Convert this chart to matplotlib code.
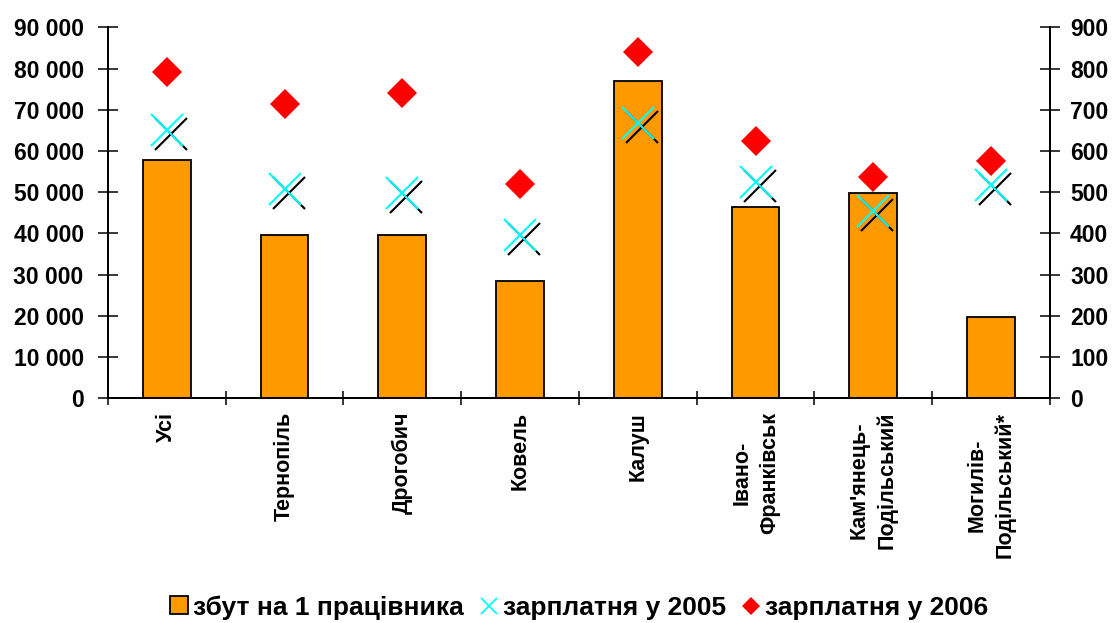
import matplotlib
matplotlib.use("Agg")
import matplotlib.pyplot as plt
import matplotlib.transforms as mtransforms
from matplotlib.ticker import FuncFormatter, FixedLocator
from matplotlib.lines import Line2D
from matplotlib.patches import Patch
import numpy as np

plt.rcParams['font.family'] = ['Liberation Sans', 'DejaVu Sans']
plt.rcParams['font.weight'] = 'bold'

categories = ["Усі", "Тернопіль", "Дрогобич", "Ковель", "Калуш",
              "Івано-\nФранківськ", "Кам'янець-\nПодільський", "Могилів-\nПодільський*"]
sales_per_worker = [57900, 39600, 39600, 28500, 76900, 46300, 49700, 19700]
salary_2005 = [652, 507, 497, 396, 667, 525, 455, 517]
salary_2006 = [792, 715, 740, 521, 841, 624, 537, 575]
left_ticks = [0, 10000, 20000, 30000, 40000, 50000, 60000, 70000, 80000, 90000]
right_ticks = [0, 100, 200, 300, 400, 500, 600, 700, 800, 900]
legend_labels = ["збут на 1 працівника", "зарплатня у 2005", "зарплатня у 2006"]

fig = plt.figure(figsize=(11.14, 6.23), dpi=100)
ax = fig.add_axes([0.0969, 0.361, 0.9425 - 0.0969, 0.956 - 0.361])
ax2 = ax.twinx()

x = np.arange(len(categories))
ax.bar(x, sales_per_worker, width=0.405, color='#FF9900', edgecolor='black',
       linewidth=1.3, zorder=2)

shadow = mtransforms.offset_copy(ax2.transData, fig=fig, x=4, y=-4, units='dots')
ax2.plot(x, salary_2005, linestyle='none', marker='x', markersize=23,
         markeredgewidth=1.5, color='black', transform=shadow, zorder=3)
ax2.plot(x, salary_2005, linestyle='none', marker='x', markersize=23,
         markeredgewidth=1.5, color='#00FFFF', zorder=4)
ax2.plot(x, salary_2006, linestyle='none', marker='D', markersize=15.3,
         color='#FF0000', markeredgewidth=0, zorder=4)

ax.set_xlim(-0.5, len(categories) - 0.5)
ax.set_ylim(left_ticks[0], left_ticks[-1])
ax2.set_ylim(right_ticks[0], right_ticks[-1])

ax.yaxis.set_major_locator(FixedLocator(left_ticks))
ax2.yaxis.set_major_locator(FixedLocator(right_ticks))
ax.yaxis.set_major_formatter(FuncFormatter(lambda v, p: f"{int(v):,}".replace(",", " ")))
ax2.yaxis.set_major_formatter(FuncFormatter(lambda v, p: f"{int(v)}"))

ax.set_xticks(x)
ax.set_xticklabels(categories, rotation=90, fontsize=15.5, fontweight='bold',
                   va='top', ha='center', multialignment='center', linespacing=1.4)
ax.set_xticks(np.arange(len(categories) + 1) - 0.5, minor=True)
ax.tick_params(axis='x', which='major', length=0, pad=10)
ax.tick_params(axis='x', which='minor', direction='inout', length=10, width=1.1)

ax.tick_params(axis='y', direction='inout', length=15, width=1.1, labelsize=16.5, pad=10)
ax2.tick_params(axis='y', direction='inout', length=15, width=1.1, labelsize=16.5, pad=7)
for lab in ax.get_yticklabels() + ax2.get_yticklabels():
    lab.set_fontweight('bold')

for a in (ax, ax2):
    a.spines['top'].set_visible(False)
    for s in ('left', 'right', 'bottom'):
        a.spines[s].set_linewidth(1.3)
        a.spines[s].set_color('black')

handles = [
    Patch(facecolor='#FF9900', edgecolor='black', linewidth=1.3),
    Line2D([], [], linestyle='none', marker='x', markersize=11, markeredgewidth=1.3, color='#00FFFF'),
    Line2D([], [], linestyle='none', marker='D', markersize=8.7, markeredgewidth=0, color='#FF0000'),
]
fig.legend(handles, legend_labels, loc='center', bbox_to_anchor=(0.520, 0.025), ncol=3,
           frameon=False, prop={'family': 'Liberation Sans', 'weight': 'bold', 'size': 19},
           handlelength=0.68, handleheight=0.68, handletextpad=0.2, columnspacing=0.6,
           borderpad=0)

fig.savefig("out.png", dpi=100)
